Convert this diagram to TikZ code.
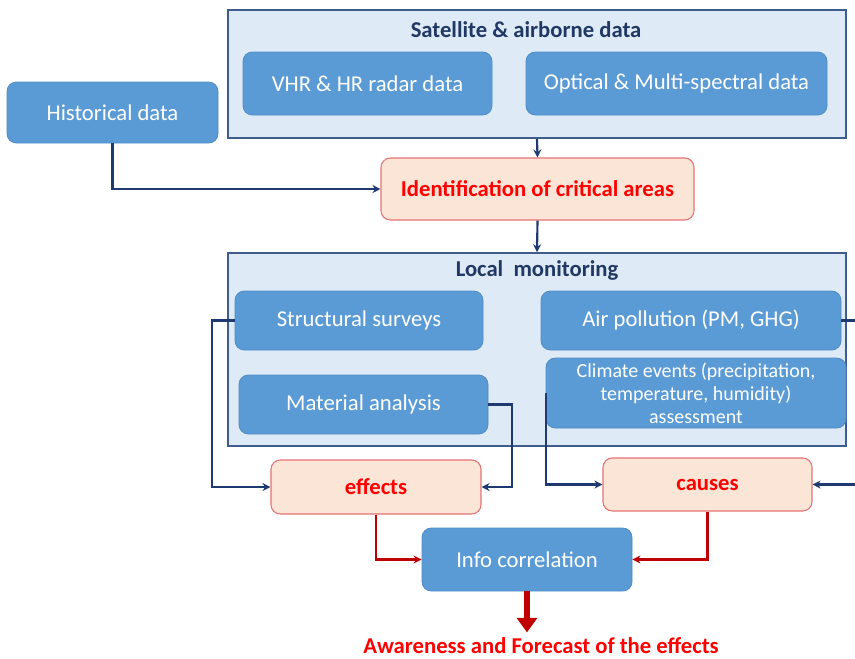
\documentclass[tikz,border=0pt]{standalone}
\usepackage{fontspec}
\setmainfont{Carlito}
\usetikzlibrary{arrows.meta}
\definecolor{BoxBlue}{HTML}{5B9BD5}
\definecolor{BoxEdge}{HTML}{4F8CC6}
\definecolor{PanelFill}{HTML}{DEEAF6}
\definecolor{PanelEdge}{HTML}{3E5C8C}
\definecolor{PeachFill}{HTML}{FBE5D6}
\definecolor{PeachEdge}{HTML}{E57373}
\definecolor{TitleBlue}{HTML}{1F3864}
\definecolor{LinkBlue}{HTML}{1F3A70}
\definecolor{LinkRed}{HTML}{C00000}
\definecolor{AlertRed}{HTML}{FF0000}

\begin{document}
\begin{tikzpicture}[
      x=0.75pt, y=-0.75pt,
      font=\fontsize{17}{20}\selectfont,
      panel/.style={
        draw=PanelEdge, fill=PanelFill, line width=1.2pt,
        minimum width=463.5pt, inner sep=0pt
      },
      bluebox/.style={
        draw=BoxEdge, fill=BoxBlue, rounded corners=7pt, text=white,
        align=center, inner sep=1pt, line width=0.6pt
      },
      peachbox/.style={
        draw=PeachEdge, fill=PeachFill, rounded corners=7pt, inner sep=2pt,
        text=AlertRed, font=\fontsize{17}{20}\selectfont\bfseries, line width=0.8pt
      },
      heading/.style={text=TitleBlue, font=\fontsize{17}{20}\selectfont\bfseries},
      arr/.style={-{Stealth[length=6pt,width=6pt]}, line width=1.6pt, color=LinkBlue},
      redarr/.style={-{Stealth[length=6pt,width=6pt]}, line width=1.6pt, color=LinkRed},
      bigarr/.style={-{Triangle[length=11pt,width=15pt]}, line width=4.5pt, color=LinkRed}
    ]
      \useasboundingbox (0,0) rectangle (855,658);
      % top: remote sensing
      \node[panel, minimum height=96pt] (sat) at (537,74) {};
      \node[heading] (sattitle) at (526,30) {Satellite \& airborne data};
      \node[bluebox, minimum width=186.75pt, minimum height=47.25pt] (vhr) at (367.5,83.5) {VHR \& HR radar data};
      \node[bluebox, minimum width=225.75pt, minimum height=47.25pt] (optic) at (676.5,83.5) {Optical \& Multi-spectral data};
      \node[bluebox, minimum width=158.25pt, minimum height=45.75pt] (hist) at (112.5,112.5) {Historical data};
      \node[peachbox, minimum width=234.75pt, minimum height=46.5pt] (ident) at (537.5,189) {Identification of critical areas};
      % local monitoring
      \node[panel, minimum height=144.75pt] (local) at (537,349.5) {};
      \node[heading] (loctitle) at (537,270) {Local~~monitoring};
      \node[bluebox, minimum width=186pt, minimum height=44.25pt] (struct) at (359,320.5) {Structural surveys};
      \node[bluebox, minimum width=186.75pt, minimum height=44.25pt] (mat) at (363.5,404.5) {Material analysis};
      \node[bluebox, minimum width=225pt, minimum height=44.25pt] (air) at (691,320.5) {Air pollution (PM, GHG)};
      \node[bluebox, minimum width=225pt, minimum height=52.5pt, inner sep=0pt,
            font=\fontsize{15}{17.25}\selectfont] (clim) at (696,393)
            {Climate events (precipitation,\\temperature, humidity)\\assessment};
      % results
      \node[peachbox, minimum width=157.5pt, minimum height=40.5pt] (eff) at (376,487) {effects};
      \node[peachbox, minimum width=156.75pt, minimum height=39.75pt] (cause) at (707.5,484.5) {causes};
      \node[bluebox, minimum width=157.5pt, minimum height=47.25pt] (corr) at (527,559.5) {Info correlation};
      \node[text=AlertRed, font=\fontsize{17}{20}\selectfont\bfseries] (aware) at (541,646) {Awareness and Forecast of the effects};
      % links
      \draw[arr] (sat.south) -- (ident.north);
      \draw[arr] (hist.south) |- (ident.west);
      \draw[arr] (ident.south) -- (local.north);
      \draw[arr] (struct.west) -- ++(-23,0) |- (eff.west);
      \draw[arr] (mat.east) -- ++(24,0) |- (eff.east);
      \draw[arr] (clim.west) |- (cause.west);
      \draw[arr] (air.east) -- ++(20,0) |- (cause.east);
      \draw[redarr] (eff.south) |- (corr.west);
      \draw[redarr] (cause.south) |- (corr.east);
      \draw[bigarr] (corr.south) -- ++(0,41);
    \end{tikzpicture}
\end{document}
